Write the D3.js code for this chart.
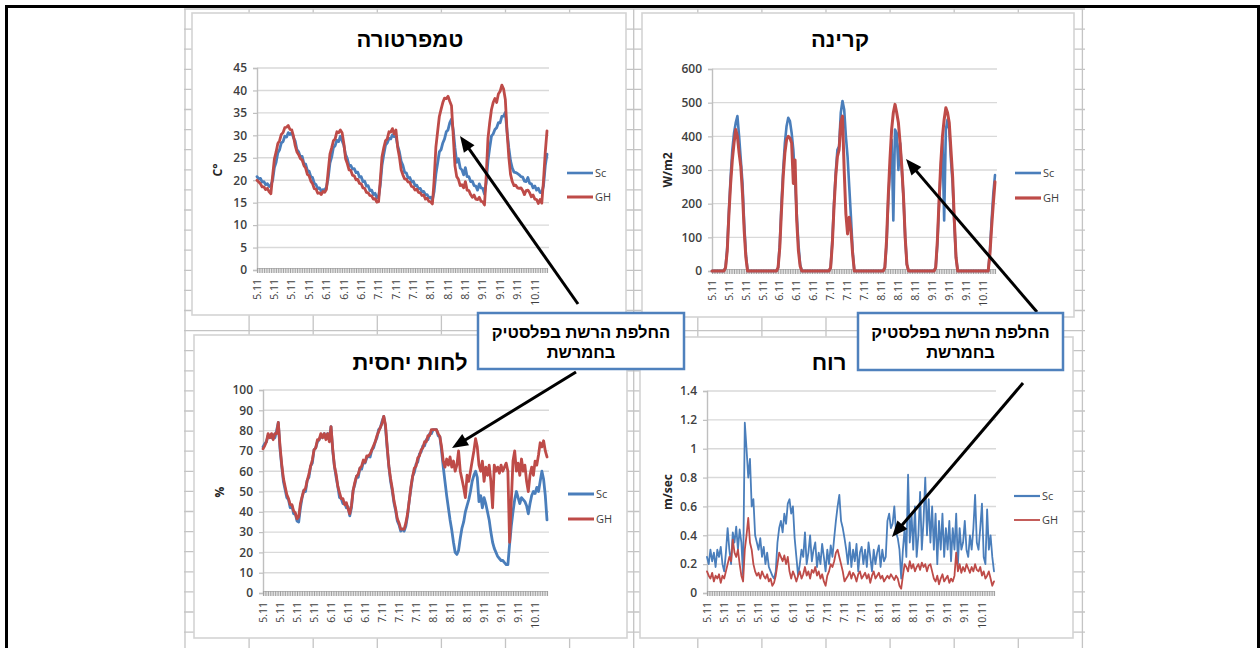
<!DOCTYPE html>
<html>
<head>
<meta charset="utf-8">
<script src="https://cdn.jsdelivr.net/npm/d3@7"></script>
<style>
  body { margin: 0; background: #fff; }
  svg { display: block; }
</style>
</head>
<body>
<svg id="chart" width="1260" height="648"></svg>
<script>
// ---- category labels along the time axis (one every 10 readings) ----
const dateLabels = ["5.11","5.11","5.11","5.11","6.11","6.11","6.11","7.11","7.11","7.11",
                    "8.11","8.11","8.11","9.11","9.11","9.11","10.11"];
const labelEvery = 10;
const seriesNames = ["Sc", "GH"];

// ---- temperature, C ----
const tempSc = [
  20.8,20.3,20.4,19.6,19.7,19.0,19.2,18.6,18.9,
  20.0,22.8,24.0,26.1,26.8,28.3,28.6,29.8,29.6,30.6,
  30.2,30.6,29.5,
  28.7,26.8,26.3,25.2,25.3,23.7,23.6,22.2,22.0,20.8,20.6,19.3,19.0,18.1,18.3,17.6,17.9,17.8,18.5,
  20.5,23.8,25.2,27.3,27.7,28.9,28.6,29.8,28.8,
  27.8,25.7,24.8,23.2,23.3,22.5,22.6,21.7,21.8,20.7,20.8,19.7,19.8,18.7,18.8,17.7,17.8,16.8,17.1,16.1,16.2,
  19.0,23.4,25.7,27.8,28.3,29.3,29.2,30.1,29.7,29.8,
  27.7,26.3,24.2,23.3,21.8,21.6,20.5,20.6,19.6,19.8,18.8,18.9,18.1,18.2,17.4,17.5,16.8,16.8,16.1,16.2,15.6,
  17.5,21.3,23.8,26.3,26.8,28.3,29.2,30.8,31.2,32.8,33.6,
  31.2,27.2,24.0,24.8,22.7,22.3,21.2,22.8,20.8,20.8,19.7,19.8,18.8,18.7,17.8,19.2,18.3,18.2,16.9,
  19.5,24.3,27.2,29.8,30.3,31.3,31.7,32.8,32.8,34.2,34.3,35.1,
  30.8,27.2,24.3,22.7,21.8,21.7,21.5,21.2,20.8,20.7,19.8,19.7,20.6,19.3,19.2,18.3,18.7,17.8,18.2,17.3,17.2,18.8,23.2,25.8
];
const tempGH = [
  20.0,19.6,19.2,18.5,18.5,17.9,18.2,17.4,17.0,
  21.0,24.7,26.3,28.2,28.8,30.2,30.6,31.7,31.8,32.2,
  31.3,31.2,29.8,
  27.7,26.3,25.7,24.8,24.5,23.3,22.7,21.3,21.0,19.8,19.2,18.1,18.0,17.1,17.2,16.8,17.5,17.3,18.0,
  22.0,25.8,27.2,28.8,29.2,30.8,30.6,31.2,30.6,
  28.2,24.8,23.7,22.3,22.2,21.1,21.0,20.1,20.2,19.3,19.2,18.3,18.2,17.3,17.2,16.6,16.5,15.8,15.9,15.1,15.2,
  20.0,25.3,27.2,28.8,29.2,30.8,30.7,31.5,30.3,31.2,
  27.3,25.2,22.3,21.2,20.3,20.2,19.6,19.5,18.6,18.5,17.8,18.0,17.3,17.2,16.6,16.7,15.8,16.0,15.3,15.2,14.7,
  20.0,27.3,30.8,34.2,35.8,37.3,38.3,38.2,38.7,37.6,36.6,
  30.0,23.2,20.8,20.2,18.8,19.0,18.3,19.7,17.8,17.7,16.8,16.2,16.7,15.8,15.7,16.2,15.3,15.2,14.5,
  21.0,29.3,32.8,35.7,37.3,38.2,37.3,39.2,39.8,41.2,40.3,38.0,
  30.8,25.2,21.3,19.7,18.8,18.9,18.3,18.2,18.3,17.7,16.8,17.7,17.8,17.2,16.3,16.7,15.8,15.7,14.8,15.7,14.9,20.0,26.2,31.0
];

// ---- solar radiation, W/m2 ----
const radSc = [
  0,0,0,0,0,0,0,0,
  10,70,180,280,360,410,440,460,400,330,260,140,50,0,
  0,0,0,0,0,0,0,0,0,0,0,0,0,0,0,0,0,
  10,80,200,300,380,430,455,445,410,360,270,170,80,20,0,
  0,0,0,0,0,0,0,0,0,0,0,0,0,0,0,0,
  10,90,200,290,360,370,470,505,480,400,340,250,160,60,0,
  0,0,0,0,0,0,0,0,0,0,0,0,0,0,0,0,0,
  10,80,210,300,390,150,420,410,300,380,300,220,100,20,0,
  0,0,0,0,0,0,0,0,0,0,0,0,0,0,0,
  10,80,200,300,390,150,420,450,420,330,260,140,40,0,
  0,0,0,0,0,0,0,0,0,0,0,0,0,0,0,0,0,0,
  60,150,230,285
];
const radGH = [
  0,0,0,0,0,0,0,0,
  10,60,170,260,330,380,420,400,350,310,230,120,40,0,
  0,0,0,0,0,0,0,0,0,0,0,0,0,0,0,0,0,
  10,70,180,280,350,390,400,395,380,260,330,150,60,15,0,
  0,0,0,0,0,0,0,0,0,0,0,0,0,0,0,0,
  10,80,190,280,340,360,440,460,300,170,110,160,120,50,0,
  0,0,0,0,0,0,0,0,0,0,0,0,0,0,0,0,0,
  10,90,220,330,420,470,495,470,440,380,310,220,100,20,0,
  0,0,0,0,0,0,0,0,0,0,0,0,0,0,0,
  10,90,210,320,400,450,485,470,440,360,280,150,40,0,
  0,0,0,0,0,0,0,0,0,0,0,0,0,0,0,0,0,0,
  50,130,200,265
];

// ---- relative humidity, % ----
const humSc = [
  72,73.5,74.5,77.5,77,76.5,78,76.5,80,
  84,71,62.5,55,51,47,46,42,43,39,39,35.5,35,
  42,47,50.5,50,55.5,57,62.5,64,70.5,71.5,74.5,75.5,77.5,76.5,78.5,76.5,78.5,75.5,82,
  70,62.5,57,52.5,47,46.5,44,44.5,42,42.5,38,
  42,50.5,53.5,57.5,57,61.5,61,64.5,64,66.5,67.5,67,70.5,71.5,74.5,76.5,80.5,81.5,84.5,87,
  82,71.5,62.5,55,50.5,44.5,40.5,35.5,33.5,30.5,31.5,30.5,33,
  38,45.5,51.5,57.5,59.5,63.5,64.5,68.5,69.5,72.5,72.5,75.5,75.5,78.5,78.5,80.5,80.5,80.5,77.5,77,
  70,62,55,48,42,36,31,25,20,19,21,27,32,35,40,43,46,50,55,58,60,57,45,48,42,47,44,
  40,36,30,25,22,20,18,17,16,16,15,14,14,24,33,40,46,50,47,44,47,46,45,43,39,44,48,
  50,49,52,50,55,60,56,48,36
];
const humGH = [
  71,72.5,74.5,78.5,76.5,78.5,75.5,78.5,78.5,
  84,72.5,63.5,56.5,52.5,48.5,46.5,43.5,43.5,40.5,39.5,36.5,37.5,
  44,47.5,50.5,51.5,55.5,58.5,62.5,65.5,70.5,71.5,75.5,75.5,78.5,76.5,78.5,75.5,78.5,74.5,82,
  71,62.5,58.5,52.5,49.5,46.5,46.5,43.5,44.5,41.5,39,
  43,50.5,54.5,57.5,58.5,61.5,62.5,65.5,64.5,67.5,67.5,68.5,70.5,72.5,74.5,77.5,79.5,81.5,83.5,87,
  83,72.5,62.5,56.5,51.5,45.5,41.5,36.5,34.5,31.5,31.5,31.5,34.5,
  39,45.5,52.5,57.5,61.5,62.5,66.5,67.5,70.5,71.5,74.5,74.5,77.5,77.5,80.5,80.5,80.5,80.5,78.5,77,
  72,65,62,66,63,67,62,65,60,63,70,60,56,52,47,58,55,60,65,70,76,72,63,60,65,55,62,
  58,63,55,42,63,60,62,59,63,60,62,64,60,25,45,65,70,60,64,58,66,60,63,55,50,58,62,
  58,65,63,68,74,72,75,70,67
];

// ---- wind speed, m/sec ----
const windSc = [
  0.25,0.2,0.3,0.22,0.28,0.18,0.3,0.25,0.32,0.2,0.15,0.28,
  0.45,0.3,0.2,0.42,0.35,0.46,0.3,0.44,0.35,0.12,
  1.18,1.0,0.8,0.93,0.6,0.65,0.4,0.35,
  0.3,0.38,0.25,0.32,0.2,0.28,0.18,0.15,0.12,0.1,0.15,
  0.35,0.45,0.5,0.42,0.55,0.48,0.62,0.65,0.55,0.6,0.38,0.25,0.12,
  0.2,0.3,0.25,0.42,0.2,0.28,0.4,0.22,0.3,0.35,0.18,0.28,0.2,0.34,0.25,0.15,0.3,0.2,0.33,0.25,0.38,
  0.5,0.6,0.68,0.5,0.45,0.38,0.3,
  0.2,0.35,0.18,0.3,0.22,0.34,0.15,0.28,0.32,0.2,0.3,0.18,0.35,0.25,0.15,0.3,0.2,0.28,0.33,0.18,0.3,0.22,0.25,
  0.5,0.55,0.45,0.48,0.6,0.42,0.38,0.3,0.1,
  0.3,0.45,0.25,0.82,0.35,0.55,0.3,0.6,0.25,0.4,0.7,0.3,0.5,0.8,0.4,0.65,0.35,0.6,0.3,0.55,0.2,0.5,0.3,0.55,0.25,0.45,
  0.3,0.5,0.22,0.45,0.3,0.55,0.2,0.45,0.3,0.35,0.5,0.3,0.25,0.4,0.3,0.45,0.68,0.35,0.3,0.45,0.62,0.25,0.2,0.58,0.3,0.4,0.25,0.15
];
const windGH = [
  0.15,0.12,0.1,0.14,0.08,0.12,0.1,0.13,0.07,0.12,0.1,0.15,
  0.2,0.25,0.22,0.37,0.28,0.25,0.3,0.2,0.12,0.08,
  0.3,0.4,0.52,0.35,0.3,0.2,0.15,0.12,
  0.14,0.1,0.15,0.12,0.1,0.13,0.08,0.1,0.05,0.07,0.12,
  0.2,0.28,0.25,0.22,0.26,0.2,0.25,0.15,0.1,0.15,0.12,0.08,0.12,
  0.15,0.1,0.13,0.18,0.12,0.15,0.1,0.16,0.14,0.18,0.12,0.15,0.1,0.13,0.08,0.05,0.12,0.15,0.2,0.18,0.22,
  0.28,0.3,0.25,0.2,0.15,0.08,0.1,
  0.12,0.15,0.1,0.14,0.12,0.08,0.13,0.15,0.1,0.12,0.14,0.1,0.13,0.07,0.12,0.15,0.1,0.12,0.14,0.1,0.12,0.08,0.1,
  0.12,0.1,0.13,0.11,0.09,0.12,0.1,0.05,0.03,
  0.12,0.2,0.18,0.15,0.22,0.17,0.2,0.15,0.18,0.2,0.16,0.21,0.18,0.2,0.15,0.19,0.2,0.15,0.1,0.08,0.12,0.06,0.1,0.13,0.08,0.1,
  0.12,0.07,0.1,0.08,0.12,0.28,0.15,0.2,0.14,0.18,0.15,0.2,0.17,0.14,0.18,0.15,0.2,0.16,0.15,0.18,0.12,0.15,0.1,0.12,0.15,0.1,0.05,0.08
];

const calloutText = ["החלפת הרשת בפלסטיק", "בחמרשת"];

// ---- styling ----
const BLUE = "#4a7ebb", RED = "#be4b48";
const NUM_FONT = "'Open Sans', 'Liberation Sans', sans-serif";
const HEB_FONT = "'Liberation Sans', 'DejaVu Sans', Arial, sans-serif";
const TEXT = "#404040";

const svg = d3.select("#chart");

// spreadsheet cell grid behind the charts
const sheet = svg.append("g");
const colX = d3.range(15).map(k => 185 + 64.1 * k);
const rowY = d3.range(33).map(k => 9 + 20.1 * k);
sheet.selectAll("line.col").data(colX).join("line")
  .attr("x1", d => d).attr("x2", d => d).attr("y1", 9).attr("y2", 648)
  .attr("stroke", "#c4c4c4").attr("stroke-width", 1.3);
sheet.selectAll("line.row").data(rowY).join("line")
  .attr("x1", 184).attr("x2", 1085).attr("y1", d => d).attr("y2", d => d)
  .attr("stroke", "#c4c4c4").attr("stroke-width", 1.3);

// page frame
svg.append("rect").attr("x", 6.5).attr("y", 6.5).attr("width", 1252).attr("height", 700)
  .attr("fill", "none").attr("stroke", "#000").attr("stroke-width", 3);

function drawPanel(p) {
  const N = p.series[0].values.length;
  const g = svg.append("g");
  g.append("rect").attr("x", p.box[0]).attr("y", p.box[1]).attr("width", p.box[2]).attr("height", p.box[3])
    .attr("fill", "#fff").attr("stroke", "#d4d4d4").attr("stroke-width", 1.6);

  const x = d3.scaleLinear().domain([0, N - 1]).range([p.x0, p.x1]);
  const y = d3.scaleLinear().domain([0, p.max]).range([p.yb, p.yt]);
  const ticks = d3.range(0, p.max + p.step / 2, p.step);

  // horizontal gridlines
  g.selectAll("line.grid").data(ticks.slice(1)).join("line")
    .attr("x1", p.x0).attr("x2", p.x1 + 2)
    .attr("y1", d => y(d)).attr("y2", d => y(d))
    .attr("stroke", "#d9d9d9").attr("stroke-width", 1.4);

  // value axis
  const ya = g.append("g").attr("transform", `translate(${p.x0},0)`)
    .call(d3.axisLeft(y).tickValues(ticks).tickSize(4).tickPadding(6)
      .tickFormat(d => String(+d.toFixed(1))));
  ya.select(".domain").attr("stroke", "#bfbfbf").attr("stroke-width", 1.4);
  ya.selectAll(".tick line").attr("stroke", "#bfbfbf").attr("stroke-width", 1.2);
  ya.selectAll("text").attr("fill", TEXT).style("font-family", NUM_FONT)
    .style("font-size", "12px").style("font-weight", 600);

  // category axis: one small tick per reading
  const xa = g.append("g").attr("transform", `translate(0,${p.yb - 2})`)
    .call(d3.axisBottom(x).tickValues(d3.range(N)).tickSize(5).tickFormat(""));
  xa.select(".domain").attr("stroke", "#bfbfbf").attr("stroke-width", 1.2);
  xa.selectAll(".tick line").attr("stroke", "#a0a0a0").attr("stroke-width", 1);

  // rotated date labels
  g.selectAll("text.date").data(dateLabels).join("text")
    .attr("transform", (d, i) => `translate(${x(i * labelEvery)},${p.yb + 9}) rotate(-90)`)
    .attr("dy", "0.35em").attr("text-anchor", "end")
    .attr("fill", TEXT).style("font-family", NUM_FONT).style("font-size", "10.5px")
    .text(d => d);

  // series
  const line = d3.line().x((d, i) => x(i)).y(d => y(d)).curve(d3.curveLinear);
  p.series.forEach(s => {
    g.append("path").datum(s.values).attr("d", line)
      .attr("fill", "none").attr("stroke", s.color).attr("stroke-width", s.width)
      .attr("stroke-linejoin", "round").attr("stroke-linecap", "round");
  });

  // title
  g.append("text").attr("x", p.title[0]).attr("y", p.title[1]).attr("text-anchor", "middle")
    .style("font-family", HEB_FONT).style("font-size", "22px").style("font-weight", "bold")
    .attr("fill", "#000").text(p.title[2]);

  // unit label
  g.append("text").attr("transform", `translate(${p.unit[0]},${p.unit[1]}) rotate(-90)`)
    .attr("text-anchor", "middle").attr("dy", "0.35em")
    .style("font-family", NUM_FONT).style("font-size", "12px").style("font-weight", "bold")
    .attr("fill", "#262626").text(p.unit[2]);

  // legend
  p.series.forEach((s, k) => {
    const ly = p.legend[1] + k * p.legend[2];
    g.append("line").attr("x1", p.legend[0]).attr("x2", p.legend[0] + 26)
      .attr("y1", ly).attr("y2", ly).attr("stroke", s.color).attr("stroke-width", s.legendWidth);
    g.append("text").attr("x", p.legend[0] + 28).attr("y", ly).attr("dy", "0.35em")
      .style("font-family", NUM_FONT).style("font-size", "11px").attr("fill", TEXT).text(s.name);
  });
}

drawPanel({
  box: [192, 13, 434, 302], x0: 257, x1: 547, yt: 68, yb: 270, max: 45, step: 5,
  title: [410, 47, "טמפרטורה"], unit: [218, 170, "C°"], legend: [567, 173, 24],
  series: [
    { name: seriesNames[0], values: tempSc, color: BLUE, width: 2.8, legendWidth: 2.6 },
    { name: seriesNames[1], values: tempGH, color: RED, width: 2.8, legendWidth: 3 }
  ]
});
drawPanel({
  box: [642, 13, 432, 304], x0: 712, x1: 995, yt: 69, yb: 271, max: 600, step: 100,
  title: [840, 47, "קרינה"], unit: [668, 170, "W/m2"], legend: [1015, 173, 25],
  series: [
    { name: seriesNames[0], values: radSc, color: BLUE, width: 2.6, legendWidth: 2.6 },
    { name: seriesNames[1], values: radGH, color: RED, width: 3, legendWidth: 3.2 }
  ]
});
drawPanel({
  box: [194, 335, 433, 303], x0: 263, x1: 547, yt: 390, yb: 593, max: 100, step: 10,
  title: [410, 370, "לחות יחסית"], unit: [220, 492, "%"], legend: [568, 494, 25],
  series: [
    { name: seriesNames[0], values: humSc, color: BLUE, width: 2.8, legendWidth: 3 },
    { name: seriesNames[1], values: humGH, color: RED, width: 2.8, legendWidth: 3 }
  ]
});
drawPanel({
  box: [640, 337, 433, 301], x0: 707, x1: 994, yt: 391, yb: 593, max: 1.4, step: 0.2,
  title: [829, 370, "רוח"], unit: [668, 492, "m/sec"], legend: [1014, 496, 24],
  series: [
    { name: seriesNames[0], values: windSc, color: BLUE, width: 1.8, legendWidth: 2.2 },
    { name: seriesNames[1], values: windGH, color: RED, width: 1.8, legendWidth: 1.8 }
  ]
});

// annotation arrows
function arrow(x1, y1, x2, y2) {
  const dx = x2 - x1, dy = y2 - y1, len = Math.hypot(dx, dy);
  const ux = dx / len, uy = dy / len, hl = 16, hw = 6.5;
  const bx = x2 - ux * hl, by = y2 - uy * hl;
  svg.append("line").attr("x1", x1).attr("y1", y1).attr("x2", bx + ux * 2).attr("y2", by + uy * 2)
    .attr("stroke", "#000").attr("stroke-width", 3);
  svg.append("path")
    .attr("d", `M${x2},${y2}L${bx - uy * hw},${by + ux * hw}L${bx + uy * hw},${by - ux * hw}Z`)
    .attr("fill", "#000");
}
arrow(578, 304, 460, 136);
arrow(576, 372, 452, 448);
arrow(1037, 312, 906, 159);
arrow(1023, 383, 892, 537);

// callout boxes
function callout(bx, by, bw, bh) {
  svg.append("rect").attr("x", bx).attr("y", by).attr("width", bw).attr("height", bh)
    .attr("fill", "#fff").attr("stroke", "#4f81bd").attr("stroke-width", 2.5);
  calloutText.forEach((t, k) => {
    svg.append("text").attr("x", bx + bw / 2).attr("y", by + 25 + k * 20)
      .attr("text-anchor", "middle").style("font-family", HEB_FONT)
      .style("font-size", "16.5px").style("font-weight", "bold").attr("fill", "#000").text(t);
  });
}
callout(478, 313, 206, 56);
callout(858, 313, 205, 57);
</script>
</body>
</html>
